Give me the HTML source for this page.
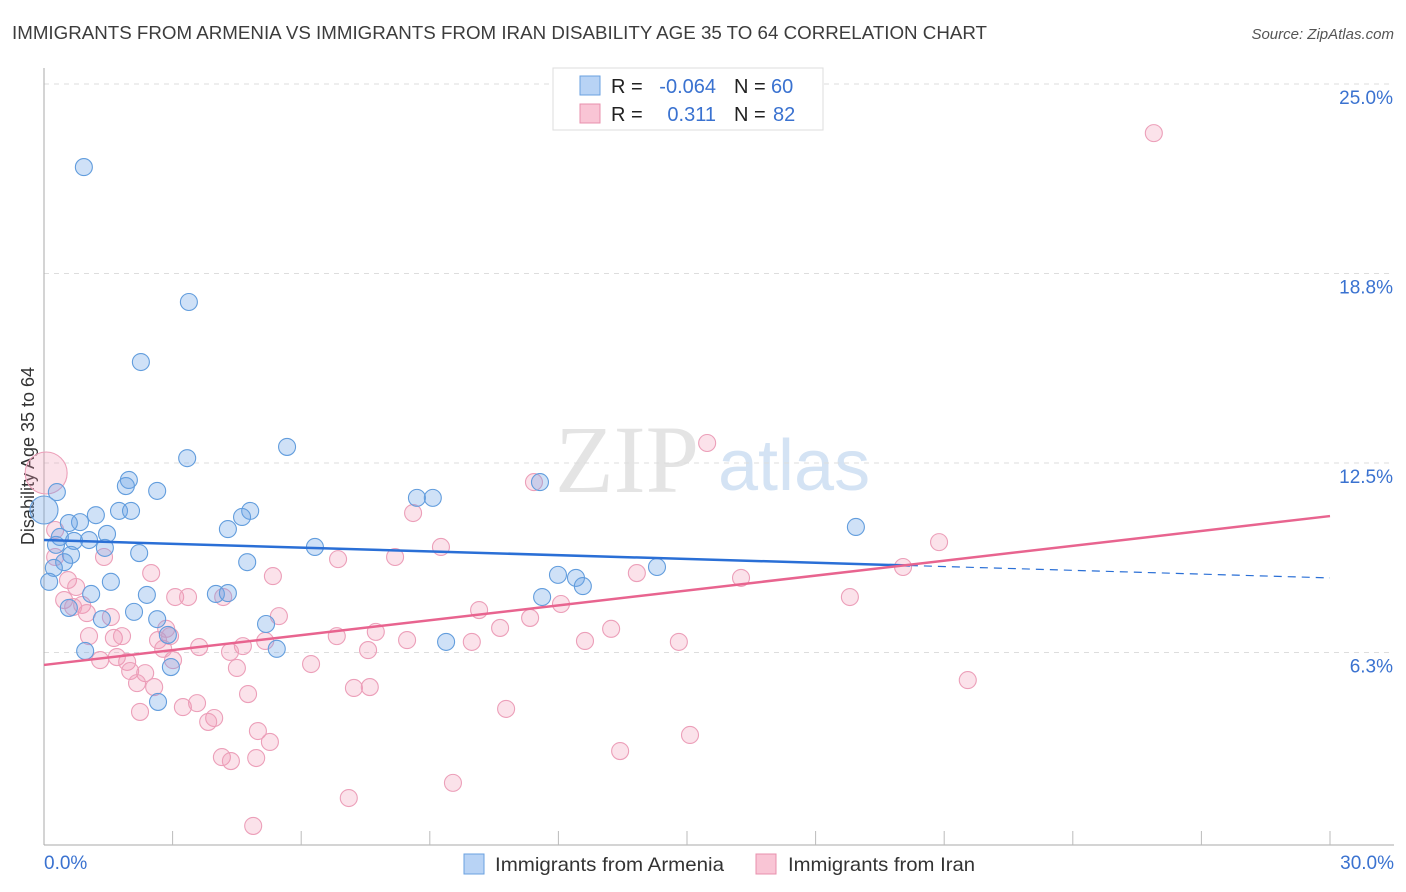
<!DOCTYPE html>
<html><head><meta charset="utf-8"><style>
body{margin:0;background:#fff;font-family:"Liberation Sans",sans-serif;}
#c{position:relative;width:1406px;height:892px;overflow:hidden;}
</style></head><body>
<div id="c">
<svg id="s" width="1406" height="892" xmlns="http://www.w3.org/2000/svg">
<text x="12" y="39" font-size="18" fill="#3c3c3c" textLength="975" lengthAdjust="spacingAndGlyphs">IMMIGRANTS FROM ARMENIA VS IMMIGRANTS FROM IRAN DISABILITY AGE 35 TO 64 CORRELATION CHART</text>
<text x="1394" y="39" font-size="15" fill="#555" font-style="italic" text-anchor="end">Source: ZipAtlas.com</text>
<text x="34" y="456" font-size="18" fill="#333" text-anchor="middle" transform="rotate(-90 34 456)">Disability Age 35 to 64</text>
<text x="555" y="492" font-size="96" fill="#e4e4e4" font-family="Liberation Serif">ZIP</text>
<text x="718" y="490" font-size="72" fill="#d4e3f4">atlas</text>
<g id="grid"></g><g id="pts"></g><g id="lines"></g>
<g>
<rect x="553" y="68" width="270" height="62" fill="#fff" stroke="#ddd"/>
<rect x="580" y="76" width="20" height="19" fill="#b8d3f5" stroke="#6aa0e0"/>
<rect x="580" y="104" width="20" height="19" fill="#f9c5d5" stroke="#e890ad"/>
<text x="611" y="93" font-size="20" fill="#222">R =</text>
<text x="716" y="93" font-size="20" fill="#3a72d0" text-anchor="end">-0.064</text>
<text x="734" y="93" font-size="20" fill="#222">N =</text>
<text x="771" y="93" font-size="20" fill="#3a72d0">60</text>
<text x="611" y="121" font-size="20" fill="#222">R =</text>
<text x="716" y="121" font-size="20" fill="#3a72d0" text-anchor="end">0.311</text>
<text x="734" y="121" font-size="20" fill="#222">N =</text>
<text x="773" y="121" font-size="20" fill="#3a72d0">82</text>
</g>
<g>
<rect x="464" y="854" width="20" height="20" fill="#b8d3f5" stroke="#6aa0e0"/>
<text x="495" y="871" font-size="19.5" fill="#333" textLength="229" lengthAdjust="spacingAndGlyphs">Immigrants from Armenia</text>
<rect x="756" y="854" width="20" height="20" fill="#f9c5d5" stroke="#e890ad"/>
<text x="788" y="871" font-size="19.5" fill="#333" textLength="187" lengthAdjust="spacingAndGlyphs">Immigrants from Iran</text>
</g>
</svg></div>
<script>
const blueX=[0.93,3.38,2.26,5.67,3.34,1.98,1.91,2.64,0.30,0.0,1.75,2.03,1.21,0.84,0.58,4.81,4.62,4.29,1.47,0.37,1.05,0.70,0.28,1.42,2.22,0.63,4.74,0.47,0.23,6.32,8.70,9.07,11.57,18.94,1.56,0.12,2.40,1.10,4.01,4.29,0.58,2.10,1.35,2.64,2.89,5.18,5.43,0.96,2.96,2.66,9.38,11.99,12.41,12.57,11.62,14.30];
const blueY=[22.26,17.81,15.83,13.03,12.66,11.94,11.74,11.58,11.54,10.95,10.92,10.92,10.78,10.55,10.52,10.92,10.72,10.32,10.16,10.06,9.96,9.93,9.80,9.70,9.53,9.47,9.23,9.23,9.04,9.73,11.35,11.35,11.87,10.39,8.58,8.58,8.15,8.18,8.18,8.21,7.72,7.59,7.35,7.35,6.83,7.19,6.37,6.30,5.77,4.62,6.60,8.81,8.71,8.44,8.08,9.07];
const pinkX=[0.05,0.26,0.26,1.40,0.56,0.75,2.50,5.34,6.86,8.19,8.61,9.26,11.43,15.47,25.89,20.88,20.04,16.26,13.83,18.80,0.47,0.89,1.00,1.56,0.68,3.06,3.36,4.18,5.48,1.05,1.63,1.82,2.66,2.85,2.94,3.62,4.64,5.16,4.34,1.31,1.70,1.94,2.01,2.36,3.01,2.78,6.83,7.74,7.56,8.47,10.15,11.34,12.06,9.98,10.64,12.62,13.23,14.81,2.17,2.57,4.50,6.23,4.76,7.23,7.60,2.24,3.24,3.57,3.97,3.83,4.99,5.27,4.15,4.36,4.95,10.78,13.44,15.07,7.11,9.54,4.88,21.55];
const pinkY=[12.17,10.29,9.40,9.40,8.64,8.41,8.87,8.77,9.33,9.40,10.85,9.73,11.87,13.16,23.38,9.89,9.07,8.71,8.87,8.08,7.98,7.82,7.55,7.42,7.75,8.08,8.08,8.08,7.45,6.79,6.73,6.79,6.66,7.03,6.79,6.43,6.46,6.63,6.27,6.00,6.10,5.94,5.64,5.57,6.00,6.37,6.79,6.93,6.33,6.66,7.65,7.39,7.85,6.60,7.06,6.63,7.03,6.60,5.24,5.11,5.74,5.87,4.88,5.08,5.11,4.29,4.45,4.58,4.09,3.96,3.66,3.30,2.80,2.67,2.77,4.39,3.00,3.53,1.45,1.95,0.53,5.34];
const yTicks=[6.25,12.5,18.75,25];
const yTickLabels=["6.3%","12.5%","18.8%","25.0%"];
const blueTrend=[9.96,8.71];
const pinkTrend=[5.84,10.75];
const X=v=>44+v/30*1286, Y=v=>842-v/12.5*379;
const NS="http://www.w3.org/2000/svg";
function mk(tag,attrs,parent){const e=document.createElementNS(NS,tag);for(const k in attrs)e.setAttribute(k,attrs[k]);parent.appendChild(e);return e;}
const g=document.getElementById('grid'),p=document.getElementById('pts'),l=document.getElementById('lines');
yTicks.forEach((t,i)=>{
 const ln=mk('line',{x1:44,x2:1394,y1:Y(t),y2:Y(t),stroke:'#ddd','stroke-dasharray':'5,5'},g);
 
 
 const tx=mk('text',{x:1393,y:Y(t)+20,'font-size':19,fill:'#3a72d0','text-anchor':'end'},g);
 tx.textContent=yTickLabels[i];
 
 
});
const ya=mk('line',{x1:44,x2:44,y1:68,y2:845,stroke:'#aaa'},g);


const xa=mk('line',{x1:44,x2:1394,y1:845,y2:845,stroke:'#aaa'},g);


for(let i=1;i<=10;i++){const tk=mk('line',{x1:X(i*3),x2:X(i*3),y1:831,y2:845,stroke:'#bbb'},g);
 
 }
[[0,'0.0%','start',44],[30,'30.0%','end',1394]].forEach(a=>{const t=mk('text',{x:a[3],y:869,'font-size':19,fill:'#3a72d0','text-anchor':a[2]},g);t.textContent=a[1];
 
 });
pinkX.forEach((v,i)=>{const c=mk('circle',{cx:X(v),cy:Y(pinkY[i]),r:i==0?21:8.5,fill:'rgba(242,150,180,0.28)',stroke:'#ec9fb9','stroke-width':1.1},p);
 
 });
blueX.forEach((v,i)=>{const c=mk('circle',{cx:X(v),cy:Y(blueY[i]),r:i==9?14:8.5,fill:'rgba(110,165,230,0.33)',stroke:'#629ddd','stroke-width':1.1},p);
 
 });
const bAt=x=>blueTrend[0]+(blueTrend[1]-blueTrend[0])*x/30;
const b1=mk('line',{x1:X(0),y1:Y(bAt(0)),x2:X(20.2),y2:Y(bAt(20.2)),stroke:'#2a6fd6','stroke-width':2.5},l);


const b2=mk('line',{x1:X(20.2),y1:Y(bAt(20.2)),x2:X(30),y2:Y(bAt(30)),stroke:'#2a6fd6','stroke-width':1.2,'stroke-dasharray':'8,6'},l);


const p1=mk('line',{x1:X(0),y1:Y(pinkTrend[0]),x2:X(30),y2:Y(pinkTrend[1]),stroke:'#e8648f','stroke-width':2.5},l);


</script>
</body></html>
